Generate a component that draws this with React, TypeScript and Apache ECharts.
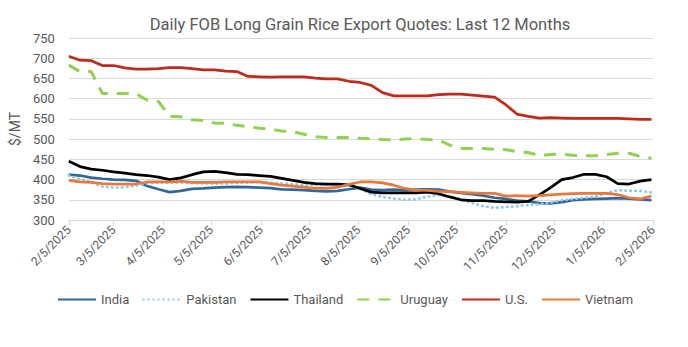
import React, { useEffect, useRef } from "react";
import * as echarts from "echarts";

// Tick labels on the date axis (the 5th of each month)
const tickLabels = [
  "2/5/2025", "3/5/2025", "4/5/2025", "5/5/2025", "6/5/2025", "7/5/2025", "8/5/2025",
  "9/5/2025", "10/5/2025", "11/5/2025", "12/5/2025", "1/5/2026", "2/5/2026",
];

// Daily categories from 2/5/2025 to 2/5/2026
const days: string[] = [];
for (let t = Date.UTC(2025, 1, 5); t <= Date.UTC(2026, 1, 5); t += 86400000) {
  const d = new Date(t);
  days.push(`${d.getUTCMonth() + 1}/${d.getUTCDate()}/${d.getUTCFullYear()}`);
}
const sampleDates = days.filter((_, i) => i % 7 === 0);

const india = [412, 410, 405, 402, 400, 399, 397, 384, 376, 369, 372, 377, 378, 380, 381, 382, 381, 380, 379, 376, 375, 374, 372, 371, 372, 376, 380, 375, 374, 375, 374, 375, 376, 375, 370, 367, 364, 360, 355, 352, 348, 346, 342, 341, 344, 349, 351, 352, 353, 354, 353, 351, 349];
const pakistan = [410, 401, 393, 383, 380, 381, 385, 391, 392, 392, 392, 391, 390, 390, 390, 392, 393, 394, 393, 390, 388, 386, 387, 388, 388, 385, 378, 364, 357, 353, 350, 351, 358, 362, 358, 351, 342, 334, 330, 332, 334, 337, 339, 343, 349, 352, 355, 358, 366, 374, 372, 372, 368];
const thailand = [445, 432, 426, 423, 419, 416, 412, 410, 406, 400, 404, 412, 419, 420, 417, 413, 412, 410, 408, 403, 398, 393, 390, 389, 389, 387, 378, 369, 367, 367, 367, 367, 369, 365, 357, 350, 348, 348, 346, 345, 344, 346, 362, 380, 400, 405, 413, 413, 407, 390, 389, 396, 400];
const uruguay = [683, 667, 667, 613, 613, 613, 612, 596, 593, 556, 555, 548, 546, 540, 539, 534, 531, 527, 525, 520, 518, 512, 506, 504, 504, 504, 502, 501, 499, 498, 500, 501, 499, 498, 485, 477, 477, 477, 475, 474, 469, 467, 459, 462, 463, 460, 459, 459, 462, 465, 465, 457, 453];
const us = [705, 695, 694, 682, 682, 676, 673, 673, 674, 677, 677, 674, 671, 671, 668, 667, 655, 654, 653, 654, 654, 654, 651, 649, 649, 643, 640, 633, 615, 607, 607, 607, 607, 610, 611, 611, 609, 606, 604, 585, 562, 556, 552, 553, 552, 551, 551, 551, 551, 551, 550, 549, 549];
const vietnam = [398, 394, 393, 390, 389, 389, 389, 394, 394, 394, 396, 393, 393, 393, 394, 394, 394, 394, 390, 386, 384, 381, 378, 378, 381, 388, 394, 394, 392, 386, 378, 374, 373, 371, 370, 368, 367, 366, 366, 359, 360, 359, 360, 362, 364, 365, 366, 366, 366, 363, 355, 352, 359];

const seriesNames = ["India", "Pakistan", "Thailand", "Uruguay", "U.S.", "Vietnam"];
const seriesValues = [india, pakistan, thailand, uruguay, us, vietnam];

const FONT = "Roboto, 'Noto Sans', sans-serif";
const GRAY = "#595959";

export default function App() {
  const ref = useRef<HTMLDivElement>(null);
  useEffect(() => {
    document.body.style.margin = "0";
    if (!ref.current) return;
    const chart = echarts.init(ref.current, undefined, { renderer: "svg" });
    const styles = [
      { color: "#31689A", width: 2.75, type: "solid" as any },
      { color: "#94C9EC", width: 2.75, type: [0.5, 4.5] as any, cap: "round" },
      { color: "#000000", width: 2.75, type: "solid" as any },
      { color: "#92D050", width: 3, type: [12, 9] as any },
      { color: "#BE2B1B", width: 2.75, type: "solid" as any },
      { color: "#E8783C", width: 2.75, type: "solid" as any },
    ];
    const isTick = (_: number, v: string) => tickLabels.indexOf(v) >= 0;
    chart.setOption({
      animation: false,
      title: {
        text: "Daily FOB Long Grain Rice Export Quotes: Last 12 Months",
        left: 355,
        textAlign: "center",
        top: 11,
        textStyle: { fontFamily: FONT, fontSize: 16.5, fontWeight: "normal", color: GRAY },
      },
      legend: {
        data: seriesNames,
        left: 57,
        top: 293,
        padding: 0,
        itemWidth: 38,
        itemHeight: 12,
        itemGap: 13,
        itemStyle: { opacity: 0 },
        textStyle: { fontFamily: FONT, fontSize: 13, color: GRAY },
      },
      grid: { left: 59, right: 35, top: 38, bottom: 127, containLabel: false },
      xAxis: {
        type: "category",
        data: days,
        boundaryGap: false,
        axisLine: { lineStyle: { color: "#D9D9D9", width: 1 } },
        axisTick: { show: true, interval: isTick, length: 5, lineStyle: { color: "#D9D9D9" } },
        axisLabel: {
          interval: isTick,
          rotate: 45,
          margin: 8,
          fontFamily: FONT,
          fontSize: 12,
          color: GRAY,
        },
        splitLine: { show: false },
      },
      yAxis: {
        type: "value",
        min: 300,
        max: 750,
        interval: 50,
        name: "$/MT",
        nameLocation: "middle",
        nameGap: 40,
        nameTextStyle: { fontFamily: FONT, fontSize: 14, color: GRAY },
        axisLine: { show: false },
        axisTick: { show: false },
        axisLabel: { margin: 14, fontFamily: FONT, fontSize: 13, color: GRAY },
        splitLine: { lineStyle: { color: "#D9D9D9", width: 1 } },
      },
      series: seriesNames.map((name, k) => ({
        name,
        type: "line",
        symbol: "none",
        showSymbol: false,
        color: styles[k].color,
        lineStyle: {
          color: styles[k].color,
          width: styles[k].width,
          type: styles[k].type,
          cap: (styles[k] as any).cap || "butt",
        },
        data: sampleDates.map((d, i) => [d, seriesValues[k][i]]),
      })),
    });
    return () => chart.dispose();
  }, []);
  return <div ref={ref} style={{ width: 688, height: 347 }} />;
}
